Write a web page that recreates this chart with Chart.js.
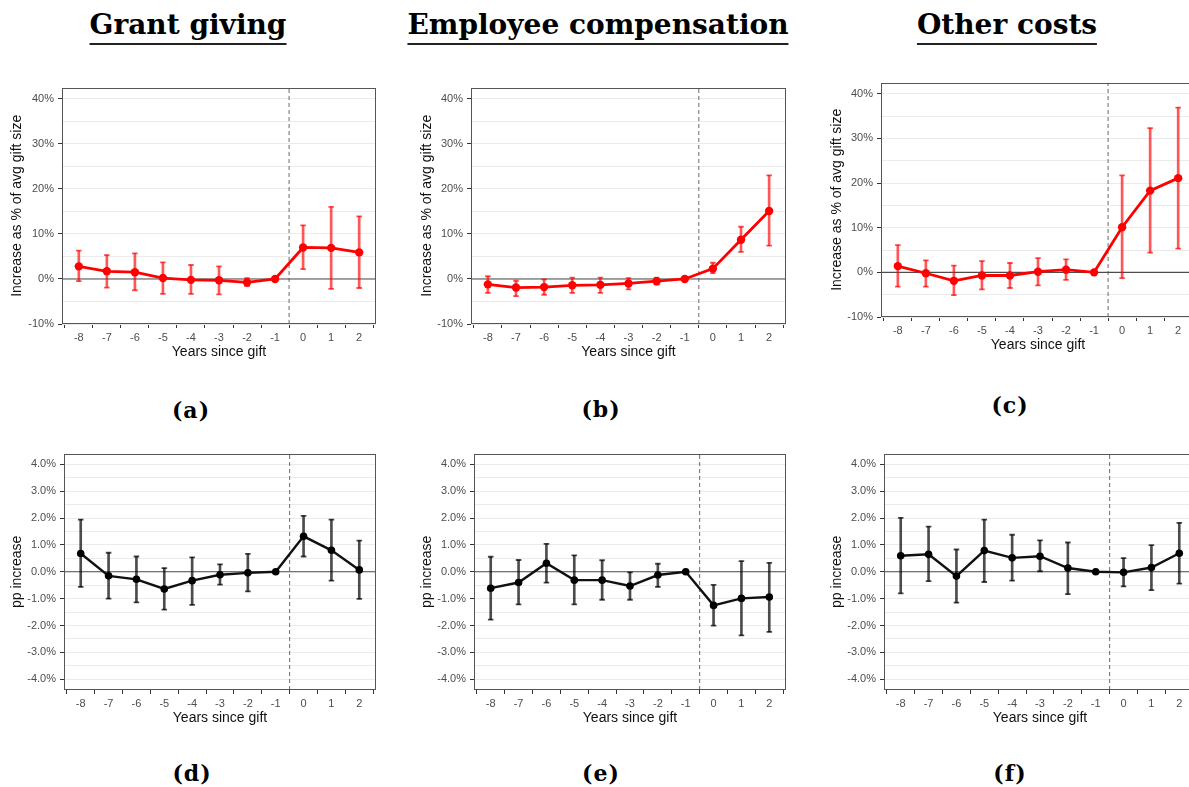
<!DOCTYPE html>
<html>
<head>
<meta charset="utf-8">
<script src="https://cdn.jsdelivr.net/npm/chart.js@4.4.0/dist/chart.umd.min.js"></script>
<style>
  html, body { margin: 0; padding: 0; background: #fff; }
  body { position: relative; width: 1189px; height: 787px; overflow: hidden; }
  .ttl { position: absolute; transform: translateX(-50%); font-family: 'DejaVu Serif', serif; font-weight: bold;
         font-size: 28px; line-height: 28px; white-space: nowrap; color: #000; padding-bottom: 4px; border-bottom: 2px solid #222; }
  .cap { position: absolute; transform: translateX(-50%); font-family: 'DejaVu Serif', serif; font-weight: bold;
         font-size: 22px; line-height: 22px; color: #000; letter-spacing: 1px; }
  canvas { position: absolute; }
</style>
</head>
<body>
<div class="ttl" style="left:188px; top:11px;">Grant giving</div>
<div class="ttl" style="left:598px; top:11px;">Employee compensation</div>
<div class="ttl" style="left:1007px; top:11px;">Other costs</div>

<div class="cap" style="left:191px; top:399px;">(a)</div>
<div class="cap" style="left:601px; top:398px;">(b)</div>
<div class="cap" style="left:1010px; top:394px;">(c)</div>
<div class="cap" style="left:192px; top:762px;">(d)</div>
<div class="cap" style="left:601px; top:762px;">(e)</div>
<div class="cap" style="left:1010px; top:762px;">(f)</div>

<canvas id="pA"></canvas>
<canvas id="pB"></canvas>
<canvas id="pC"></canvas>
<canvas id="pD"></canvas>
<canvas id="pE"></canvas>
<canvas id="pF"></canvas>

<script>
// Event-time axis
const years = [-8, -7, -6, -5, -4, -3, -2, -1, 0, 1, 2];
const yearRange = [-8.6, 2.6];
const giftLine = -0.5;

// Increase as % of average gift size (estimate, lower and upper CI)
const grantEst = [2.8, 1.7, 1.5, 0.2, -0.2, -0.3, -0.75, 0, 7.0, 6.9, 5.9];
const grantLo  = [-0.5, -1.9, -2.5, -3.3, -3.3, -3.4, -1.6, 0, 2.2, -2.2, -2.0];
const grantHi  = [6.3, 5.3, 5.7, 3.7, 3.1, 2.8, 0.2, 0, 11.9, 16.0, 13.9];

const empEst = [-1.2, -1.9, -1.8, -1.4, -1.3, -1.0, -0.5, 0, 2.3, 8.7, 15.1];
const empLo  = [-3.1, -3.8, -3.5, -3.1, -3.1, -2.3, -1.2, 0, 1.3, 6.0, 7.4];
const empHi  = [0.6, -0.4, -0.1, 0.3, 0.3, 0.2, 0.3, 0, 3.6, 11.6, 23.0];

const otherEst = [1.4, -0.2, -1.9, -0.7, -0.7, 0.15, 0.6, 0, 10.1, 18.3, 21.1];
const otherLo  = [-3.2, -3.2, -5.1, -3.8, -3.5, -2.9, -1.7, 0, -1.3, 4.4, 5.3];
const otherHi  = [6.1, 2.7, 1.5, 2.5, 2.1, 3.2, 2.9, 0, 21.7, 32.3, 36.9];

// Percentage-point change in spending share
const grantPpEst = [0.68, -0.15, -0.28, -0.64, -0.33, -0.11, -0.04, 0, 1.32, 0.80, 0.07];
const grantPpLo  = [-0.56, -1.00, -1.14, -1.41, -1.23, -0.48, -0.73, 0, 0.57, -0.33, -1.01];
const grantPpHi  = [1.94, 0.71, 0.57, 0.14, 0.54, 0.28, 0.67, 0, 2.08, 1.94, 1.16];

const empPpEst = [-0.61, -0.40, 0.32, -0.31, -0.31, -0.53, -0.12, 0, -1.25, -0.99, -0.94];
const empPpLo  = [-1.78, -1.21, -0.40, -1.21, -1.04, -1.04, -0.56, 0, -2.00, -2.37, -2.24];
const empPpHi  = [0.56, 0.44, 1.04, 0.61, 0.43, -0.02, 0.30, 0, -0.49, 0.40, 0.33];

const otherPpEst = [0.60, 0.65, -0.16, 0.79, 0.52, 0.58, 0.14, 0, -0.02, 0.16, 0.69];
const otherPpLo  = [-0.80, -0.35, -1.15, -0.38, -0.33, 0.02, -0.83, 0, -0.54, -0.68, -0.44];
const otherPpHi  = [2.01, 1.68, 0.83, 1.94, 1.38, 1.17, 1.09, 0, 0.51, 0.99, 1.82];

// Y axes: gridline positions and ranges
const shareTicks = [-10, -5, 0, 5, 10, 15, 20, 25, 30, 35, 40];
const shareRange = [-10, 42.5];
const ppTicks = [-4, -3.5, -3, -2.5, -2, -1.5, -1, -0.5, 0, 0.5, 1, 1.5, 2, 2.5, 3, 3.5, 4];
const ppRange = [-4.4, 4.4];

const shareTitle = 'Increase as % of avg gift size';
const ppTitle = 'pp increase';
const xTitle = 'Years since gift';

Chart.defaults.font.family = "'Liberation Sans', Arial, Helvetica, sans-serif";

const RED = { line: '#ff0000', point: '#ff0000', err: 'rgba(255,0,0,0.66)', lw: 2.8, pr: 4.2 };
const BLACK = { line: '#111111', point: '#000000', err: 'rgba(0,0,0,0.7)', lw: 2.4, pr: 3.8 };

const shareFmt = v => (Math.round(v) % 10 === 0 ? Math.round(v) + '%' : '');
const ppFmt = v => (Math.abs(v - Math.round(v)) < 1e-6 ? v.toFixed(1) + '%' : '');
const shareMajor = v => Math.round(v) % 10 === 0;
const ppMajor = v => Math.abs(v - Math.round(v)) < 1e-6;

// Panel frame on top of everything
const framePlugin = {
  id: 'frame',
  afterDraw(chart) {
    const { ctx, chartArea: a } = chart;
    ctx.save();
    ctx.strokeStyle = '#555555';
    ctx.lineWidth = 1;
    ctx.strokeRect(Math.round(a.left) + 0.5, Math.round(a.top) + 0.5,
                   Math.round(a.right - a.left) - 1, Math.round(a.bottom - a.top) - 1);
    ctx.restore();
  }
};

function panel(id, box, est, lo, hi, sty, yCfg) {
  const padTop = 10, padRight = 14, xAxisH = 37;
  const cLeft = Math.round(box.ytx - 8.4);
  const yAxisW = box.l - cLeft;
  const cw = yAxisW + (box.r - box.l) + padRight;
  const ch = padTop + (box.b - box.t) + xAxisH;
  const cv = document.getElementById(id);
  cv.width = cw; cv.height = ch;
  cv.style.left = cLeft + 'px'; cv.style.top = (box.t - padTop) + 'px';
  cv.style.width = cw + 'px'; cv.style.height = ch + 'px';

  const pts = years.map((x, i) => ({ x, y: est[i] }));
  const stems = years.map((x, i) => ({ x, y: [lo[i], hi[i]] }));
  const caps = [];
  years.forEach((x, i) => { caps.push({ x, y: lo[i] }); caps.push({ x, y: hi[i] }); });

  new Chart(cv, {
    type: 'line',
    data: {
      datasets: [
        { type: 'line', data: pts, borderColor: sty.line, borderWidth: sty.lw, pointRadius: sty.pr,
          pointBackgroundColor: sty.point, pointBorderWidth: 0, fill: false, tension: 0 },
        { type: 'line', data: caps, showLine: false, pointStyle: 'line', pointRadius: 2.8,
          pointBorderColor: sty.err, pointBorderWidth: 1.8 },
        { type: 'bar', data: stems, backgroundColor: sty.err, barThickness: 2, borderWidth: 0 },
        { type: 'line', data: [{ x: yearRange[0], y: 0 }, { x: yearRange[1], y: 0 }],
          borderColor: '#4d4d4d', borderWidth: 1.1, pointRadius: 0 },
        { type: 'line', data: [{ x: giftLine, y: yCfg.range[0] }, { x: giftLine, y: yCfg.range[1] }],
          borderColor: '#6a6a6a', borderWidth: 1, borderDash: [4, 3], pointRadius: 0 }
      ]
    },
    options: {
      responsive: false,
      animation: false,
      events: [],
      layout: { padding: { top: padTop, right: padRight, left: 0, bottom: 0 } },
      plugins: { legend: { display: false }, tooltip: { enabled: false } },
      scales: {
        x: {
          type: 'linear', min: yearRange[0], max: yearRange[1], offset: false,
          afterBuildTicks: s => { s.ticks = years.map(v => ({ value: v })); },
          afterFit: s => { s.height = xAxisH; },
          ticks: { autoSkip: false, maxRotation: 0, color: '#4d4d4d', font: { size: 11 }, padding: 3,
                   callback: v => String(v) },
          grid: { drawOnChartArea: false, tickLength: 4, tickColor: '#333333' },
          border: { display: false },
          title: { display: true, text: xTitle, color: '#111', font: { size: 14 }, padding: 0 }
        },
        y: {
          type: 'linear', min: yCfg.range[0], max: yCfg.range[1],
          afterBuildTicks: s => { s.ticks = yCfg.ticks.map(v => ({ value: v })); },
          afterFit: s => { s.width = yAxisW; },
          ticks: { autoSkip: false, color: '#4d4d4d', font: { size: 11 }, padding: 4, callback: yCfg.fmt },
          grid: { color: '#ebebeb', lineWidth: 1, tickLength: 4,
                  tickColor: c => (c.tick && yCfg.major(c.tick.value) ? '#333333' : 'rgba(0,0,0,0)') },
          border: { display: false },
          title: { display: true, text: yCfg.title, color: '#111', font: { size: 14 }, padding: 0 }
        }
      }
    },
    plugins: [framePlugin]
  });
}

const shareAxis = { ticks: shareTicks, range: shareRange, fmt: shareFmt, major: shareMajor, title: shareTitle };
const ppAxis = { ticks: ppTicks, range: ppRange, fmt: ppFmt, major: ppMajor, title: ppTitle };

panel('pA', { l: 62, t: 87, r: 376, b: 324, ytx: 17 }, grantEst, grantLo, grantHi, RED, shareAxis);
panel('pB', { l: 471, t: 87, r: 786, b: 324, ytx: 427 }, empEst, empLo, empHi, RED, shareAxis);
panel('pC', { l: 881, t: 82, r: 1195, b: 317, ytx: 837 }, otherEst, otherLo, otherHi, RED, shareAxis);
panel('pD', { l: 64, t: 453, r: 376, b: 690, ytx: 17 }, grantPpEst, grantPpLo, grantPpHi, BLACK, ppAxis);
panel('pE', { l: 474, t: 453, r: 786, b: 690, ytx: 427 }, empPpEst, empPpLo, empPpHi, BLACK, ppAxis);
panel('pF', { l: 884, t: 453, r: 1196, b: 690, ytx: 837 }, otherPpEst, otherPpLo, otherPpHi, BLACK, ppAxis);
</script>
</body>
</html>
